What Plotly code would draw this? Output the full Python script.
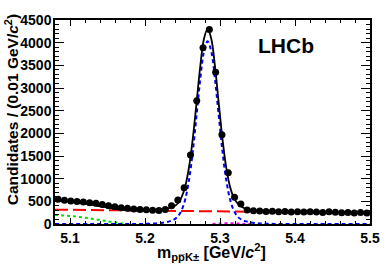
import numpy as np
import plotly.graph_objects as go

# ---- data ----
bin_lo, bin_w, n_bins = 5.08, 0.0084, 50
bin_centers = [round(bin_lo + bin_w * (i + 0.5), 4) for i in range(n_bins)]
counts = [545, 525, 510, 495, 485, 470, 455, 430, 405, 380,
          360, 345, 330, 320, 312, 305, 300, 320, 400, 530,
          800, 1520, 2720, 3890, 4290, 3350, 1970, 1130, 590, 440,
          310, 290, 285, 275, 280, 270, 275, 265, 270, 262,
          272, 265, 255, 268, 260, 250, 255, 245, 252, 242]

# total fit (black solid)
tot_x = [5.08, 5.10, 5.12, 5.14, 5.16, 5.18, 5.20, 5.2135, 5.2235, 5.2335,
         5.2385, 5.2435, 5.2485, 5.2535, 5.2585, 5.2635, 5.2685, 5.2735, 5.2785, 5.2835,
         5.2885, 5.2935, 5.2985, 5.3035, 5.3085, 5.3135, 5.3185, 5.3235, 5.3285, 5.3335,
         5.3435, 5.3535, 5.3635, 5.40, 5.45, 5.50]
tot_y = [516, 491, 449, 394, 336, 299, 299, 305, 319, 353,
         387, 452, 580, 822, 1235, 1854, 2639, 3452, 4076, 4311,
         4074, 3448, 2634, 1847, 1227, 812, 578, 453, 386, 341,
         299, 281, 272, 261, 253, 244]

# signal (blue dashed)
sig_x = [5.08, 5.1835, 5.2035, 5.2135, 5.2235, 5.2335, 5.2385, 5.2435, 5.2485, 5.2535,
         5.2585, 5.2635, 5.2685, 5.2735, 5.2785, 5.2835, 5.2885, 5.2935, 5.2985, 5.3035,
         5.3085, 5.3135, 5.3185, 5.3235, 5.3285, 5.3335, 5.3435, 5.3535, 5.3635, 5.3835, 5.50]
sig_y = [0, 0, 5, 12, 28, 63, 98, 164, 293, 536,
         950, 1569, 2355, 3169, 3794, 4030, 3794, 3169, 2355, 1569,
         950, 536, 293, 164, 98, 63, 28, 12, 5, 0, 0]

# combinatorial background (red long dash)
comb_x = [5.08, 5.50]
comb_y = [316, 244]

# partially reconstructed background (green dotted)
part_x = [5.08, 5.09, 5.10, 5.11, 5.12, 5.13, 5.14, 5.15, 5.16, 5.17, 5.18]
part_y = [200, 190, 178, 160, 140, 115, 88, 60, 34, 12, 0]

# peaking background (magenta dotted)
peak_x = [5.29, 5.30, 5.31, 5.32, 5.33, 5.34]
peak_y = [0, 10, 16, 14, 6, 0]

x_ticks = [5.1, 5.2, 5.3, 5.4, 5.5]
y_ticks = [0, 500, 1000, 1500, 2000, 2500, 3000, 3500, 4000, 4500]

FONT = "Liberation Sans"

fig = go.Figure()
fig.add_trace(go.Scatter(x=part_x, y=part_y, mode="lines", line=dict(color="#00dd00", width=2, dash="dot"), line_shape="spline"))
fig.add_trace(go.Scatter(x=peak_x, y=peak_y, mode="lines", line=dict(color="#ee00ee", width=2, dash="dot"), line_shape="spline"))
fig.add_trace(go.Scatter(x=comb_x, y=comb_y, mode="lines", line=dict(color="#ff0000", width=2, dash="13px,5px")))
fig.add_trace(go.Scatter(x=sig_x, y=sig_y, mode="lines", line=dict(color="#0000ff", width=2, dash="4px,3px"), line_shape="spline"))
fig.add_trace(go.Scatter(x=tot_x, y=tot_y, mode="lines", line=dict(color="black", width=1.8), line_shape="spline"))
fig.add_trace(go.Scatter(
    x=bin_centers, y=counts, mode="markers",
    marker=dict(color="black", size=7),
    error_y=dict(type="data", array=list(np.sqrt(counts)), color="black", thickness=1, width=0),
    error_x=dict(type="constant", value=bin_w / 2, color="black", thickness=1, width=0),
))

axis_common = dict(
    showline=True, linecolor="black", linewidth=1.5, mirror="allticks",
    ticks="inside", tickcolor="black", tickwidth=1,
    showgrid=False, zeroline=False,
)
fig.update_xaxes(range=[5.08, 5.5], tickvals=x_ticks, ticktext=[f"{v:.1f}" for v in x_ticks],
                 ticklen=6,
                 tickfont=dict(family=FONT, size=14, color="black", weight="bold"),
                 minor=dict(ticks="inside", ticklen=3, dtick=0.02, tick0=5.1, tickcolor="black"),
                 **axis_common)
fig.update_yaxes(range=[0, 4500], tickvals=y_ticks, ticklen=9, ticklabelstandoff=-1,
                 tickfont=dict(family=FONT, size=14, color="black", weight="bold"),
                 minor=dict(ticks="inside", ticklen=4.5, dtick=100, tickcolor="black"),
                 **axis_common)

fig.add_annotation(text="Candidates / (0.01 GeV/<i>c</i><sup>2</sup>)", textangle=-90,
                   xref="paper", yref="paper", x=-44 / 318, y=(224 - 107) / 209,
                   xanchor="center", yanchor="middle", showarrow=False,
                   font=dict(family=FONT, size=15.5, color="black", weight="bold"))
fig.add_annotation(text="m<sub>pp\u0305K\u00b1</sub> [GeV/<i>c</i><sup>2</sup>]",
                   xref="paper", yref="paper", x=(270 - 55) / 318, y=(224 - 253) / 209,
                   xanchor="right", yanchor="middle", showarrow=False,
                   font=dict(family=FONT, size=16, color="black", weight="bold"))
fig.add_annotation(text="LHCb", xref="paper", yref="paper", x=(288 - 55) / 318, y=(224 - 41.5) / 209,
                   xanchor="center", yanchor="middle", showarrow=False,
                   font=dict(family=FONT, size=21, color="black", weight="bold"))

fig.update_layout(width=392, height=267, margin=dict(l=55, r=19, t=15, b=43),
                  paper_bgcolor="white", plot_bgcolor="white", showlegend=False)
fig.write_html("out.html", config={"displayModeBar": False},
               post_script="document.body.style.margin='0px';")
